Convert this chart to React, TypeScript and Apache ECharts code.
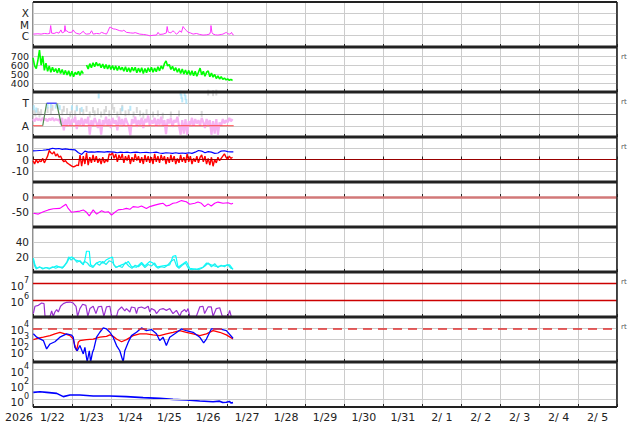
import React, { useEffect, useRef } from 'react';
import * as echarts from 'echarts';

// ---------- labels ----------
const dayLabels = ['1/22', '1/23', '1/24', '1/25', '1/26', '1/27', '1/28', '1/29', '1/30', '1/31', '2/ 1', '2/ 2', '2/ 3', '2/ 4', '2/ 5'];
const yearLabel = '2026';
const xrayClassLabels: Record<string, string> = { '-6': 'C', '-5': 'M', '-4': 'X' };
const stateLabels: Record<string, string> = { '1': 'A', '3': 'T' };
const rtLabel = 'rt';

// ---------- data (hours since start, value) ----------
const xray: [number, number][] = [
  [0.2, 1.4e-6], [3, 1.5e-6], [5, 1.4e-6], [7, 1.6e-6], [9, 1.5e-6], [10.3, 1.6e-6], [10.9, 8e-6], [11.5, 1.7e-6], [13, 1.6e-6],
  [14.6, 2.0e-6], [16, 1.7e-6], [17.2, 3.3e-6], [18, 1.8e-6], [19.3, 2.2e-6], [19.7, 8e-6], [20.2, 2.5e-6], [20.7, 2.8e-6], [22, 2.0e-6],
  [23.8, 2.0e-6], [24.8, 3.3e-6], [25.8, 2.0e-6], [27, 1.6e-6], [28.9, 1.4e-6], [31, 2.5e-6], [32, 1.6e-6], [33, 1.4e-6], [35, 1.5e-6],
  [36.1, 2.8e-6], [37.1, 1.4e-6], [39.2, 1.6e-6], [41, 1.5e-6], [42.3, 2.0e-6], [44, 1.6e-6], [45.3, 1.4e-6], [46.2, 2.5e-6], [47.3, 5.8e-6],
  [48, 5.5e-6], [49.4, 4.1e-6], [51, 3.8e-6], [53.5, 2.8e-6], [55, 2.6e-6], [56, 3.1e-6], [57.6, 2.0e-6], [60, 1.8e-6], [61.7, 1.7e-6],
  [63, 1.9e-6], [65.8, 1.4e-6], [68, 1.3e-6], [69.9, 1.2e-6], [72, 1.0e-6], [74, 1.1e-6], [76.1, 1.15e-6], [77.1, 2.0e-6], [78, 1.3e-6],
  [80.2, 1.4e-6], [82.2, 1.8e-6], [82.7, 6.6e-6], [83.3, 2.2e-6], [83.9, 2.0e-6], [85, 1.8e-6], [86.3, 2.8e-6], [87.3, 2e-6], [88.4, 1.4e-6],
  [89.5, 1.8e-6], [90.5, 2.8e-6], [91.5, 2.0e-6], [92.5, 6.6e-6], [93.5, 4.1e-6], [94.5, 3.0e-6], [95.6, 2.0e-6], [97, 1.8e-6], [98.7, 1.4e-6],
  [100.7, 1.6e-6], [102.8, 1.3e-6], [104.8, 1.15e-6], [106.8, 1.2e-6], [108.9, 1.4e-6], [109.5, 2.5e-6], [109.7, 8e-6], [110.3, 2.0e-6],
  [111, 1.4e-6], [112.5, 1.2e-6], [114, 1.15e-6], [116, 1.3e-6], [117.1, 1.4e-6], [118.5, 1.8e-6], [119.2, 2.0e-6], [120, 1.5e-6],
  [121.2, 1.4e-6], [122, 1.6e-6], [122.4, 2.0e-6], [123, 1.3e-6], [123.7, 1.2e-6],
];

// solar wind speed, hourly from hour 0
const windSpeed: (number | null)[] = [
  680, 590, 560, 650, 765, 600, 700, 540, 620, 530, 590,
  520, 575, 525, 560, 510, 565, 505, 550, 495, 540,
  490, 535, 475, 530, 470, 520, 495, 530, 485, 535, 505,
  null,
  600, 555, 615, 570, 625, 580, 630, 590, 615, 570,
  610, 560, 605, 555, 600, 550, 595, 545, 590, 540,
  585, 545, 575, 530, 580, 525, 570, 520, 575, 535,
  575, 515, 565, 520, 570, 505, 560, 515, 570, 525,
  575, 520, 565, 525, 580, 535, 590, 555, 615, 645,
  590, 605, 550, 585, 535, 570, 520, 560, 505, 555,
  500, 545, 495, 540, 485, 535, 480, 530, 475, 520,
  565, 490, 530, 475, 520, 535, 470, 510, 465, 495,
  450, 480, 445, 470, 440, 455, 435, 445, 430, 440, 428,
];

// panel 3: state levels (A = 1, T = 3)
const stateRed1: [number, number][] = [[0, 1], [6, 1]];
const stateRed2: [number, number][] = [[17.6, 1], [123.7, 1]];
const stateGreen1: [number, number][] = [[6, 1], [8.4, 3]];
const stateGreen2: [number, number][] = [[14.6, 3], [17.6, 1]];
const stateBlue: [number, number][] = [[8.4, 3], [14.6, 3]];
// pink, hourly from hour 0
const statePink: number[] = [
  1.6, 1.4, 1.7, 1.5, 1.6, 1.45, 1.7, 1.5, 1.6, 1.4, 1.65, 1.5, 1.7, 1.45, 1.6, 1.5, 1.55,
  1.2, 1.7, 0.6, 1.6, 1.0, 1.75, 0.9, 1.6, 1.3, 1.8, 0.7, 1.5, 1.1, 1.7,
  0.9, 1.6, 1.2, 1.8, 0.2, 1.5, 1.0, 1.7, 1.3, 0.8, 1.6, 0.2, 1.5, 1.1, 1.8,
  1.0, 1.6, 0.8, 1.7, 1.2, 1.5, 0.6, 1.8, 1.1, 1.6, 0.9, 1.7, 1.3, 1.0, 0.15,
  1.6, 1.2, 1.8, 0.9, 1.5, 1.1, 1.7, 0.8, 1.6, 1.3, 1.9, 1.0, 1.5, 1.2, 1.7,
  0.9, 1.6, 1.1, 1.8, 1.0, 1.5, 0.25, 1.6, 1.2, 1.7, 0.9, 1.5, 1.3, 1.8, 1.0,
  0.2, 1.5, 0.3, 1.6, 0.2, 1.4, 1.1, 1.7, 0.9, 1.6, 1.2, 1.5, 1.0, 1.7, 1.3,
  0.8, 1.6, 1.1, 1.5, 0.2, 1.4, 0.3, 1.6, 0.2, 1.3, 1.0, 1.6, 1.2, 1.5, 1.3, 1.7, 1.4, 1.6,
];
const stateGrey: [number, number][] = [
  [0.5, 2.2], [1.5, 2.1], [3, 2.3], [4, 2.0], [5, 2.2], [9, 2.4], [11, 2.3], [12, 2.6], [18, 2.2], [19, 2.5], [21, 2.3], [23, 2.0],
  [24, 2.4], [26, 2.1], [27, 2.6], [29, 2.3], [31, 2.2], [33, 2.5], [35, 2.0], [37, 2.4], [38, 2.1], [40, 2.3], [42, 2.0], [44, 2.2],
  [45, 2.5], [47, 2.1], [49, 2.7], [50, 2.4], [52, 2.0], [54, 2.3], [55, 2.6], [57, 2.1], [59, 2.2], [62, 2.0], [64, 2.4], [66, 2.1],
  [68, 1.9], [70, 2.2], [74, 2.0], [77, 2.1], [80, 1.9], [85, 2.0], [90, 2.1], [104, 2.05], [108, 3.95], [111, 3.9], [113, 3.95],
];
const stateCyan: [number, number][] = [
  [0.5, 2.6], [2, 2.4], [9, 2.75], [11, 2.8], [14, 2.75], [15.5, 2.7], [16.5, 2.6], [24, 2.6], [27, 2.5], [30, 2.45], [40.5, 3.65],
  [55, 2.5], [60, 2.55], [91, 3.9], [91.5, 3.6], [92, 3.3], [93.5, 3.85], [94, 3.5], [94.5, 3.15],
];

// IMF Bt (blue) and Bz (red, hourly)
const imfBt: [number, number][] = [
  [0, 7.6], [2, 7.8], [4, 8], [6, 8.2], [8, 8.5], [10, 9], [12, 10], [14, 9.5], [16, 9.8], [18, 9], [20, 9.5], [22, 9], [24, 8.8],
  [26, 8.5], [28, 6], [30, 4.5], [32, 7.5], [34, 6.5], [36, 6.8], [38, 6.5], [40, 7], [42, 6.8], [44, 6.5], [46, 7], [48, 6.8],
  [50, 6.5], [52, 6], [54, 6.5], [56, 6.2], [58, 6.5], [60, 6], [62, 6.3], [64, 6.5], [66, 6], [68, 6.2], [70, 6.4], [72, 6],
  [74, 6.2], [76, 6.5], [78, 5.8], [80, 5.5], [82, 6], [84, 5.8], [86, 5.5], [88, 6], [90, 5.5], [92, 5.8], [94, 5.5], [96, 6],
  [98, 5.5], [100, 6.5], [102, 8], [104, 7.5], [106, 6], [108, 7], [110, 6.5], [112, 5.5], [114, 5.8], [116, 7.5], [118, 7.8],
  [120, 7], [122, 6.8], [123.5, 6.8],
];
const imfBz: number[] = [
  -1, -4, 0, -3, -1, -2, 1, -3, 0,
  3, 8, 6, 5, 7, 3, 5, 2, 3,
  0, -2, -1, -3, -4, -5, -6, -6.5, -6, -5, -5.5,
  4, -6, 3, -4, 6, -5, 2, -3, 4, -2, 3, -3, 1, -4, 2, -3, 0, -2,
  5, 4, 6, 1, 5, -2, 4, 0, 5, -3, 3, -1, 4, -4,
  2, -2, 5, -1, 3, -3, 2, -4, 4, -2, 3, -3, 2, -4, 5, -2, 3, -3, 4, -1,
  3, -4, 2, -3, 4, -2, 3, -4, 1, -3, 4, -2, 2, -3, 5, -2, 3, -4, 1, -2,
  3, -3, 2, 4, -2, 3, -4, 1, -5, 2, -6, 0, -3, 2, -1, 1, 3, 5, 2, 0, 3, 1, 2,
];

// Dst
const dst: [number, number][] = [
  [0.2, -54], [3.3, -57], [6.4, -49], [9.4, -43], [12.5, -39], [16.6, -38], [18.7, -30], [20.3, -24], [21.7, -38], [23.8, -51],
  [25.8, -49], [28.9, -47], [31, -43], [33, -51], [34.7, -63], [37.1, -43], [39.2, -57], [42.3, -46], [44.3, -51], [46.4, -49],
  [48.4, -60], [50.5, -51], [52.5, -43], [55.6, -41], [57.6, -38], [59.7, -41], [61.7, -32], [64.8, -34], [66.9, -30], [69.9, -38],
  [72, -32], [75.1, -27], [78.1, -23], [80.2, -21], [82.2, -30], [84.3, -27], [86.3, -21], [88.4, -19], [91.5, -12], [94.5, -16],
  [96.6, -24], [99.7, -21], [101.7, -17], [103.8, -21], [105.8, -32], [107.9, -23], [109.9, -30], [112, -21], [114, -17], [117.1, -21],
  [120.2, -19], [122.2, -23], [123.3, -21],
];

// panel 6: two cyan traces
const cyanA: [number, number][] = [
  [0.2, 18.6], [1.2, 9.5], [2.3, 5], [4.3, 6.4], [6.4, 5], [8.4, 6], [10.5, 5], [12.5, 6.4], [14.6, 8.2], [16.6, 6.4], [18.7, 6.4],
  [20.7, 11.8], [22.4, 18.6], [23.8, 20], [25.8, 16.4], [28.9, 14.1], [31, 9.5], [32, 16.4], [33, 27.7], [34.7, 27.7], [35.5, 9.5],
  [37.1, 7.3], [39.2, 11.8], [41.2, 14.1], [43.3, 11.8], [45.3, 16.4], [47.4, 18.6], [49, 20], [49.8, 9.5], [51.5, 6.4], [54.6, 9.5],
  [57.6, 11.8], [58.7, 14.1], [60.7, 7.3], [63.8, 6.4], [66.9, 12.7], [68.9, 8.2], [72, 14.1], [74, 11.8], [76.1, 6.4], [80.2, 8.2],
  [84.3, 9.5], [86.3, 21], [88, 21.8], [89.4, 6.4], [92.5, 10.9], [94.5, 14.1], [96.6, 5], [100.7, 3.6], [104.8, 6.4], [106.9, 11.8],
  [109.9, 9.5], [113, 7.3], [117.1, 8.2], [121.2, 9.5], [123.3, 3.6],
];
const cyanB: [number, number][] = [
  [0.2, 16], [1, 8], [2, 4], [4, 7], [6, 4], [8, 6], [10, 4], [12, 7], [14, 5], [16, 7], [18, 5], [19.5, 9], [21, 14], [22, 20],
  [23.5, 16], [25, 19], [27, 13], [29, 15], [30.5, 11], [32, 14], [33.5, 12], [35, 8], [37, 6], [39, 12], [41, 9], [43, 14], [45, 10],
  [47, 15], [49, 13], [51, 6], [53, 8], [55, 6], [57, 13], [59, 8], [61, 5], [63, 9], [65, 7], [67, 11], [69, 6], [71, 10], [73, 8],
  [75, 12], [77, 5], [79, 7], [81, 6], [83, 9], [85, 14], [87, 17], [88.5, 8], [90, 5], [92, 9], [94, 12], [96, 4], [98, 3], [100, 4],
  [102, 3], [104, 5], [106, 8], [108, 12], [110, 7], [112, 11], [114, 6], [116, 9], [118, 7], [120, 10], [122, 5], [123.3, 4],
];

// electrons
const electrons: [number, number][] = [
  [0.2, 1.6e5], [1.2, 4.4e5], [3.3, 5e5], [5.3, 6.9e5], [6.8, 6.3e5], [7.4, 1.1e5], [10.5, 1.1e5], [11.5, 2.3e5], [12.5, 1.1e5],
  [13.5, 2e5], [14.6, 2.8e5], [15.6, 2e5], [17, 4.4e5], [18.7, 6.3e5], [20.7, 7.6e5], [22.8, 7.9e5], [24.8, 6.9e5], [26.5, 4.4e5],
  [27.5, 1.1e5], [28.9, 3.2e5], [30.6, 5.8e5], [32.6, 5e5], [33.8, 1.1e5], [35.1, 3.2e5], [37.1, 4.4e5], [38.8, 1.6e5], [40.2, 4e5],
  [42.3, 4.4e5], [43.7, 1.1e5], [45.3, 4e5], [47.4, 4.4e5], [48.4, 1.1e5], [51.5, 1.1e5], [52.5, 2.5e5], [54.6, 4e5], [56.6, 2.3e5],
  [57.6, 3.2e5], [59.7, 2e5], [60.7, 4e5], [62.8, 3.6e5], [63.8, 1.6e5], [64.8, 3.5e5], [66.9, 4e5], [68.9, 3.2e5], [71, 4.4e5],
  [72, 2e5], [73, 3.2e5], [75.1, 2.5e5], [76.1, 1.6e5], [78.1, 2.8e5], [80.2, 3.2e5], [82.2, 2.5e5], [84.3, 3.2e5], [86.3, 1.6e5],
  [88.4, 2.5e5], [90.5, 1.1e5], [91.5, 2e5], [93.5, 2.8e5], [94.5, 2e5], [95.6, 3.2e5], [96.6, 1.1e5], [100.7, 1.1e5], [102.8, 4e5],
  [104.8, 4.4e5], [105.8, 1.6e5], [107.9, 4e5], [109.9, 4e5], [111, 1.1e5], [113, 3.2e5], [115.1, 3.6e5], [116.7, 1.1e5],
  [120.2, 1.1e5], [121.2, 2.5e5], [122.2, 1.1e5],
];

// protons: blue and red
const protonBlue: [number, number][] = [
  [0.2, 3.2e3], [2.3, 1.6e3], [6.4, 8e2], [8.4, 1.45e2], [10.5, 4e2], [13.5, 6.3e2], [16.6, 1.6e3], [20.7, 3.2e3], [23.8, 2.5e3],
  [24.8, 1.6e3], [25.8, 2e2], [27.3, 1e2], [28.9, 2.9e2], [31, 52], [32, 2e2], [33.4, 10], [34.7, 1e2], [35.5, 10], [36.7, 74],
  [37.5, 1.45e2], [39.2, 1.6e3], [41.2, 4.4e3], [43.3, 1.07e4], [45.3, 8.7e3], [47.4, 4.4e3], [49.4, 1.6e3], [51.5, 2.9e2],
  [53.5, 1e2], [55.6, 10], [56.6, 1e2], [58.7, 5.7e2], [60.7, 2.2e3], [63.8, 4.4e3], [66.9, 1.07e4], [69.9, 6.2e3], [73, 7.6e3],
  [76.1, 3.2e3], [78.1, 8e2], [80.2, 1.6e3], [82.2, 2.9e2], [84.3, 1.6e3], [87.4, 3.2e3], [91.5, 8.7e3], [94.5, 6.2e3], [98.7, 4.4e3],
  [102.8, 1.6e3], [105.2, 5e2], [106.9, 1.1e3], [109.9, 8.7e3], [115.1, 8.7e3], [119.2, 6.2e3], [123.3, 1.3e3],
];
const protonRed: [number, number][] = [
  [0.2, 9.8e2], [3.3, 1.3e3], [6.4, 1.6e3], [10.5, 2.2e3], [13.5, 3.2e3], [16.6, 4.4e3], [19.7, 3.2e3], [22.8, 2.2e3], [24.8, 1.1e3],
  [25.8, 2.9e2], [26.9, 1e2], [27.9, 5.7e2], [28.9, 8e2], [33, 9.8e2], [37.1, 1.1e3], [41.2, 1.6e3], [45.3, 1.9e3], [47.4, 2.6e3],
  [49.4, 1.9e3], [51.5, 1.1e3], [54.6, 6.3e2], [57.6, 9.8e2], [61.7, 2.2e3], [65.8, 3.2e3], [69.9, 3.2e3], [74, 2.6e3], [78.1, 2.2e3],
  [82.2, 3.2e3], [86.3, 4.4e3], [90.5, 6.2e3], [94.5, 4.4e3], [98.7, 3.2e3], [102.8, 2.2e3], [106.9, 3.2e3], [111, 6.2e3],
  [115.1, 4.4e3], [119.2, 2.6e3], [123.3, 1.1e3],
];

// bottom panel
const bottomFlux: [number, number][] = [
  [0.2, 9], [4.3, 11], [8.4, 9], [14.6, 6.6], [18.7, 2.4], [22.8, 4], [28.9, 4], [37.1, 2.9], [47.4, 2.9], [57.6, 2.4], [67.9, 1.76],
  [78.1, 1.43], [86.3, 1.05], [94.5, 0.86], [102.8, 0.63], [111, 0.51], [115, 0.6], [117, 0.4], [119.2, 0.42], [121, 0.55], [122, 0.35], [123.3, 0.38],
];

// ---------- styling ----------
const FONT = "'DejaVu Sans', sans-serif";
const GRIDC = '#cccccc';
const TOPS = [2, 47, 92, 137, 182, 227, 272, 317, 362];
const BOTTOM = 407;
const LEFT = 33;
const RIGHT = 617;
const HOURS = 360;

const hourly = (vals: (number | null)[]) => vals.map((v, i) => [i, v]);

const supFmt = (exps: number[]) => (v: number) => {
  const l = Math.log10(v);
  const e = Math.round(l);
  if (Math.abs(l - e) > 1e-6 || !exps.includes(e)) return '';
  return `{b|10}{s|${e}}`;
};
const supRich = {
  b: { fontSize: 10.5, fontFamily: FONT, color: '#222', lineHeight: 15, verticalAlign: 'bottom' },
  s: { fontSize: 8, fontFamily: FONT, color: '#222', lineHeight: 8, verticalAlign: 'top' },
};
const yLabel = { fontFamily: FONT, fontSize: 10.5, lineHeight: 9, color: '#222', margin: 4 };
const xLabel = { fontFamily: FONT, fontSize: 11, color: '#222' };

function buildOption(): any {
  const grids = TOPS.map((t, i) => ({
    left: LEFT,
    width: RIGHT - LEFT,
    top: t,
    height: (i < TOPS.length - 1 ? TOPS[i + 1] : BOTTOM) - t,
    show: true,
    borderColor: '#222',
    borderWidth: 1,
  }));
  const xAxes: any[] = TOPS.map((_, i) => ({
    type: 'value',
    gridIndex: i,
    min: 0,
    max: HOURS,
    interval: 24,
    axisLabel: { show: false },
    axisLine: { show: false },
    axisTick: { show: true, inside: true, length: 3, lineStyle: { color: '#222' } },
    splitLine: { show: true, lineStyle: { color: GRIDC, width: 1 } },
  }));
  xAxes.push({
    type: 'category',
    gridIndex: 8,
    position: 'bottom',
    data: dayLabels,
    boundaryGap: true,
    axisLine: { show: false },
    axisTick: { show: false },
    splitLine: { show: false },
    axisLabel: { ...xLabel, interval: 0, margin: 5 },
  });

  const hideAxis = { axisLine: { show: false }, axisTick: { show: false } };
  const split = { show: true, lineStyle: { color: GRIDC, width: 1 } };
  const yAxes: any[] = [
    {
      type: 'log', gridIndex: 0, min: 1e-7, max: 1e-3, logBase: 10, ...hideAxis, splitLine: split,
      axisLabel: { ...yLabel, formatter: (v: number) => xrayClassLabels[String(Math.round(Math.log10(v)))] ?? '' },
    },
    {
      type: 'value', gridIndex: 1, min: 300, max: 800, interval: 100, ...hideAxis, splitLine: split,
      axisLabel: { ...yLabel, fontSize: 9.5, lineHeight: 8, showMinLabel: false, showMaxLabel: false },
    },
    {
      type: 'value', gridIndex: 2, min: 0, max: 4, interval: 1, ...hideAxis, splitLine: split,
      axisLabel: { ...yLabel, formatter: (v: number) => stateLabels[String(v)] ?? '' },
    },
    {
      type: 'value', gridIndex: 3, min: -20, max: 20, interval: 10, ...hideAxis, splitLine: split,
      axisLabel: { ...yLabel, showMinLabel: false, showMaxLabel: false },
    },
    {
      type: 'value', gridIndex: 4, min: -100, max: 50, interval: 50, ...hideAxis, splitLine: split,
      axisLabel: { ...yLabel, showMinLabel: false, showMaxLabel: false },
    },
    {
      type: 'value', gridIndex: 5, min: 0, max: 60, interval: 20, ...hideAxis, splitLine: split,
      axisLabel: { ...yLabel, showMinLabel: false, showMaxLabel: false },
    },
    {
      type: 'log', gridIndex: 6, min: 1e5, max: 5e7, logBase: 10, ...hideAxis, splitLine: { show: false },
      axisLabel: { ...yLabel, formatter: supFmt([6, 7]), rich: supRich },
    },
    {
      type: 'log', gridIndex: 7, min: 10, max: 1e5, logBase: 10, ...hideAxis, splitLine: split,
      axisLabel: { ...yLabel, formatter: supFmt([2, 3, 4]), rich: supRich },
    },
    {
      type: 'log', gridIndex: 8, min: 0.1, max: 1e5, logBase: 10, ...hideAxis, splitLine: { show: false },
      axisLabel: { ...yLabel, formatter: supFmt([0, 2, 4]), rich: supRich },
    },
  ];

  const line = (i: number, data: any[], color: string, width = 1, extra: any = {}) => ({
    type: 'line',
    xAxisIndex: i,
    yAxisIndex: i,
    data,
    showSymbol: false,
    symbol: 'none',
    connectNulls: false,
    lineStyle: { color, width },
    itemStyle: { color },
    z: 3,
    ...extra,
  });
  const ref = (vals: number[], color: string, width: number, type: any = 'solid') => ({
    markLine: {
      silent: true,
      symbol: 'none',
      label: { show: false },
      lineStyle: { color, width, type },
      data: vals.map((v) => ({ yAxis: v })),
    },
  });
  const dots = (i: number, data: any[], color: string, size: any) => ({
    type: 'scatter',
    xAxisIndex: i,
    yAxisIndex: i,
    data,
    symbol: 'rect',
    symbolSize: size,
    itemStyle: { color },
    z: 2,
  });

  const series: any[] = [
    line(0, xray, '#ff33ff', 1),
    line(1, hourly(windSpeed), '#00ff00', 1.6),
    // panel 3
    { ...line(2, [], '#666', 1), ...ref([2], '#666666', 1.2) },
    dots(2, stateGrey, '#cfcfcf', [2, 6]),
    dots(2, stateCyan, '#a8e2f8', [2, 5]),
    line(2, hourly(statePink), '#f6b2f2', 2.2),
    line(2, stateRed1, '#ff4040', 1.2),
    line(2, stateRed2, '#ff4040', 1.2),
    line(2, stateGreen1, '#4f8a4f', 1.2),
    line(2, stateGreen2, '#4f8a4f', 1.2),
    line(2, stateBlue, '#5050ff', 1.5),
    // panel 4
    { ...line(3, hourly(imfBz), '#ff0000', 1.4), ...ref([0], '#990000', 1.2) },
    line(3, imfBt, '#0000ff', 1.2),
    // panel 5
    { ...line(4, dst, '#ff00ff', 1.1), ...ref([0], '#d27878', 2.5) },
    // panel 6
    line(5, cyanA, '#00ffff', 1.2),
    line(5, cyanB, '#22eeee', 1.2),
    // panel 7
    { ...line(6, electrons, '#9a30d0', 1.2), ...ref([1e6, 1e7], '#cc0000', 1.3) },
    // panel 8
    { ...line(7, protonRed, '#ff0000', 1.3), ...ref([1e4], '#e03030', 1.5, [9, 6]) },
    line(7, protonBlue, '#0000ff', 1.3),
    // panel 9
    { ...line(8, bottomFlux, '#0000ff', 1.6), ...ref([1, 100, 1e4], GRIDC, 1) },
  ];

  const graphic: any[] = [];
  const sepColor = '#222';
  TOPS.slice(1).forEach((y) => {
    graphic.push({ type: 'line', z: 100, shape: { x1: LEFT, y1: y, x2: RIGHT, y2: y }, style: { stroke: sepColor, lineWidth: 3 } });
  });
  graphic.push({ type: 'line', z: 100, shape: { x1: LEFT, y1: TOPS[0], x2: RIGHT, y2: TOPS[0] }, style: { stroke: sepColor, lineWidth: 2 } });
  graphic.push({ type: 'line', z: 100, shape: { x1: LEFT, y1: BOTTOM, x2: RIGHT, y2: BOTTOM }, style: { stroke: sepColor, lineWidth: 2 } });
  graphic.push({ type: 'line', z: 100, shape: { x1: RIGHT, y1: TOPS[0], x2: RIGHT, y2: BOTTOM }, style: { stroke: sepColor, lineWidth: 1.5 } });
  graphic.push({
    type: 'text', z: 100, x: 19, y: 417,
    style: { text: yearLabel, fontFamily: FONT, fontSize: 11, fill: '#222', align: 'center', verticalAlign: 'middle' },
  });
  [1, 2, 3, 6, 7].forEach((i) => {
    graphic.push({
      type: 'text', z: 100, x: 621, y: TOPS[i] + 10,
      style: { text: rtLabel, fontFamily: FONT, fontSize: 7, fill: '#555', align: 'left', verticalAlign: 'middle' },
    });
  });

  return {
    animation: false,
    backgroundColor: '#ffffff',
    grid: grids,
    xAxis: xAxes,
    yAxis: yAxes,
    series,
    graphic,
  };
}

export default function App() {
  const ref = useRef<HTMLDivElement>(null);
  useEffect(() => {
    if (!ref.current) return;
    const chart = echarts.init(ref.current, null, { renderer: 'svg' });
    chart.setOption(buildOption());
    return () => chart.dispose();
  }, []);
  return <div ref={ref} style={{ position: 'absolute', left: 0, top: 0, width: 634, height: 424 }} />;
}
